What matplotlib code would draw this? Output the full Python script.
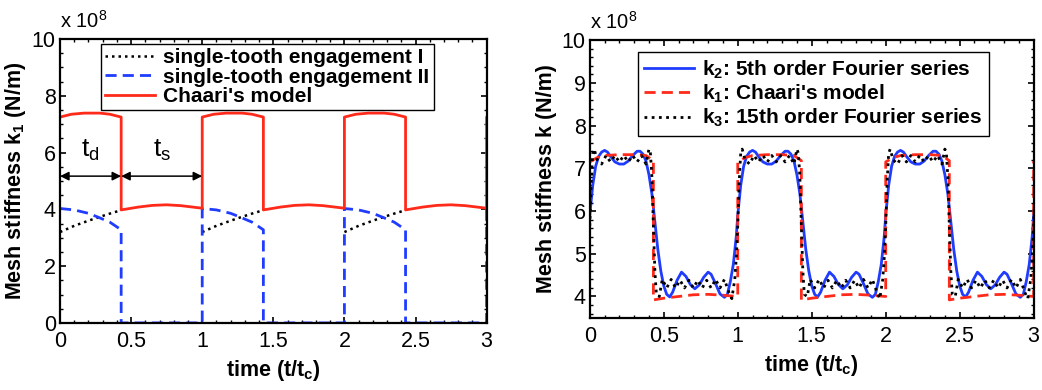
import numpy as np
import matplotlib
matplotlib.use("Agg")
import matplotlib.pyplot as plt
from matplotlib.ticker import MultipleLocator, FuncFormatter

plt.rcParams['font.family'] = ['Liberation Sans', 'DejaVu Sans']

# ------------------------------------------------------------
# data, one mesh period (t/tc from 0 to 1), stiffness in 1e8 N/m
# ------------------------------------------------------------
t_d = 0.43        # end of double-tooth zone
arrow_y = 5.17    # height of the t_d / t_s arrows
n_per = 4         # periods drawn, clipped at t = 3 by the axis

# left plot
chaari_t = [0, 0.08, 0.17, 0.28, 0.35, 0.43, 0.43, 0.55, 0.65, 0.75, 0.85, 0.95, 1.0]
chaari_k = [7.25, 7.35, 7.39, 7.39, 7.35, 7.25, 3.98, 4.08, 4.14, 4.16, 4.13, 4.07, 4.04]

tooth1_t = [0, 0.1, 0.2, 0.27, 0.35, 0.43]
tooth1_k = [3.20, 3.42, 3.60, 3.72, 3.85, 3.97]

tooth2_t = [0, 0.1, 0.2, 0.27, 0.35, 0.43, 0.43, 1.0]
tooth2_k = [4.03, 3.98, 3.86, 3.72, 3.55, 3.28, 0, 0]

# right plot
k1_t = [0, 0.05, 0.1, 0.2, 0.3, 0.38, 0.43, 0.43, 0.5, 0.6, 0.7, 0.8, 0.9, 1.0]
k1_k = [7.15, 7.25, 7.30, 7.32, 7.32, 7.30, 7.18, 3.92, 3.96, 4.00, 4.04, 4.05, 4.03, 4.00]

k2_t = [0.00, 0.02, 0.04, 0.06, 0.08, 0.10, 0.12, 0.14, 0.17, 0.20, 0.23, 0.26, 0.29,
        0.32, 0.34, 0.36, 0.38, 0.40, 0.42, 0.44, 0.46, 0.48, 0.50, 0.52, 0.54, 0.56,
        0.59, 0.62, 0.65, 0.68, 0.71, 0.74, 0.77, 0.80, 0.82, 0.85, 0.88, 0.91, 0.93,
        0.95, 0.97, 0.99]
k2_k = [5.90, 6.60, 7.05, 7.28, 7.38, 7.42, 7.38, 7.28, 7.15, 7.10, 7.10, 7.17, 7.30,
        7.40, 7.40, 7.33, 7.17, 6.85, 6.40, 5.75, 5.10, 4.60, 4.25, 4.05, 3.99, 4.10,
        4.38, 4.57, 4.47, 4.28, 4.18, 4.27, 4.45, 4.57, 4.52, 4.30, 4.06, 3.98, 4.05,
        4.35, 4.75, 5.40]

k3_t = [0.00, 0.01, 0.02, 0.03, 0.05, 0.08, 0.11, 0.14, 0.17, 0.20, 0.23, 0.26, 0.29,
        0.32, 0.35, 0.38, 0.40, 0.41, 0.42, 0.43, 0.44, 0.45, 0.47, 0.49, 0.52, 0.55,
        0.58, 0.61, 0.64, 0.67, 0.70, 0.73, 0.76, 0.79, 0.82, 0.85, 0.88, 0.91, 0.94,
        0.96, 0.98, 0.99]
k3_k = [5.65, 6.70, 7.35, 7.45, 7.20, 7.10, 7.30, 7.15, 7.30, 7.15, 7.30, 7.15, 7.30,
        7.15, 7.30, 7.10, 7.45, 7.35, 6.80, 5.65, 4.60, 4.05, 4.00, 4.40, 4.20, 4.40,
        4.20, 4.38, 4.20, 4.38, 4.20, 4.38, 4.20, 4.38, 4.20, 4.40, 4.20, 4.40, 4.10,
        3.95, 4.40, 4.90]


def repeat(t, k, n, gap=False):
    tt, kk = [], []
    for p in range(n):
        tt += [x + p for x in t]
        kk += list(k)
        if gap:
            tt.append(np.nan)
            kk.append(np.nan)
    return np.array(tt), np.array(kk)


blue = '#1f3cff'
red = '#ff2a1a'
fmt = FuncFormatter(lambda v, pos: '%g' % v)


def style_axes(ax, ymin, ymax, ymaj, ymin_step):
    ax.set_xlim(0, 3)
    ax.set_ylim(ymin, ymax)
    ax.xaxis.set_major_locator(MultipleLocator(0.5))
    ax.xaxis.set_minor_locator(MultipleLocator(0.1))
    ax.yaxis.set_major_locator(MultipleLocator(ymaj))
    ax.yaxis.set_minor_locator(MultipleLocator(ymin_step))
    ax.xaxis.set_major_formatter(fmt)
    ax.yaxis.set_major_formatter(fmt)
    ax.tick_params(which='both', direction='in', top=True, right=True)
    ax.tick_params(which='major', length=4, width=1.2, labelsize=15.5)
    ax.tick_params(axis='x', which='major', pad=6)
    ax.tick_params(axis='y', which='major', pad=3)
    ax.tick_params(which='minor', length=2, width=1)
    for s in ax.spines.values():
        s.set_linewidth(1.6)
    ax.set_xlabel(r'time (t/t$\mathregular{_c}$)', fontsize=15.5, fontweight='bold',
                  labelpad=4)
    ax.text(0.0, 1.025, r'x 10$\mathregular{^8}$', transform=ax.transAxes,
            fontsize=14.5, ha='left', va='bottom')


fig = plt.figure(figsize=(10.42, 3.9), dpi=100)

# =========================================
# left: Chaari's model
# =========================================
ax1 = fig.add_axes([0.0576, 0.172, 0.4094, 0.728])

x, y = repeat(tooth1_t, tooth1_k, n_per, gap=True)
ax1.plot(x, y, color='k', ls=(0, (1, 1.6)), lw=1.8, label='single-tooth engagement I')
x, y = repeat(tooth2_t, tooth2_k, n_per)
ax1.plot(x, y, color=blue, ls=(0, (4, 2.2)), lw=2, label='single-tooth engagement II')
x, y = repeat(chaari_t, chaari_k, n_per)
ax1.plot(x, y, color=red, lw=2, label="Chaari's model")

style_axes(ax1, 0, 10, 2, 0.5)
ax1.set_ylabel(r'Mesh stiffness k$\mathregular{_1}$ (N/m)', fontsize=15.5,
               fontweight='bold', labelpad=3)

arr = dict(arrowstyle='<|-|>', color='k', lw=1.1, mutation_scale=13,
           shrinkA=0, shrinkB=0)
ax1.annotate('', xy=(0, arrow_y), xytext=(t_d, arrow_y), arrowprops=arr)
ax1.annotate('', xy=(t_d, arrow_y), xytext=(1.0, arrow_y), arrowprops=arr)
ax1.text(t_d / 2, arrow_y + 0.45, r't$\mathregular{_d}$', fontsize=19, ha='center',
         va='bottom')
ax1.text((1.0 + t_d) / 2, arrow_y + 0.45, r't$\mathregular{_s}$', fontsize=19,
         ha='center', va='bottom')

ax1.legend(loc='upper left', bbox_to_anchor=(0.096, 0.982), borderaxespad=0,
           prop=dict(weight='bold', size=15), fancybox=False, edgecolor='k',
           framealpha=1, borderpad=0.2, labelspacing=0.02, handlelength=2.4,
           handletextpad=0.4).get_frame().set_linewidth(1)

# =========================================
# right: Fourier series approximations
# =========================================
ax2 = fig.add_axes([0.566, 0.185, 0.426, 0.712])

x, y = repeat(k2_t, k2_k, n_per)
ax2.plot(x, y, color=blue, lw=2, label=r'k$\mathregular{_2}$: 5th order Fourier series')
x, y = repeat(k1_t, k1_k, n_per)
ax2.plot(x, y, color=red, ls=(0, (4, 2.2)), lw=2,
         label=r"k$\mathregular{_1}$: Chaari's model")
x, y = repeat(k3_t, k3_k, n_per)
ax2.plot(x, y, color='k', ls=(0, (1, 1.6)), lw=2,
         label=r'k$\mathregular{_3}$: 15th order Fourier series')

style_axes(ax2, 3.5, 10, 1, 0.2)
ax2.set_ylabel('Mesh stiffness k (N/m)', fontsize=15.5, fontweight='bold', labelpad=3)

ax2.legend(loc='upper left', bbox_to_anchor=(0.108, 0.957), borderaxespad=0,
           prop=dict(weight='bold', size=15), fancybox=False, edgecolor='k',
           framealpha=1, borderpad=0.3, labelspacing=0.1, handlelength=2.4,
           handletextpad=0.4).get_frame().set_linewidth(1)

fig.savefig('out.png', dpi=100)
